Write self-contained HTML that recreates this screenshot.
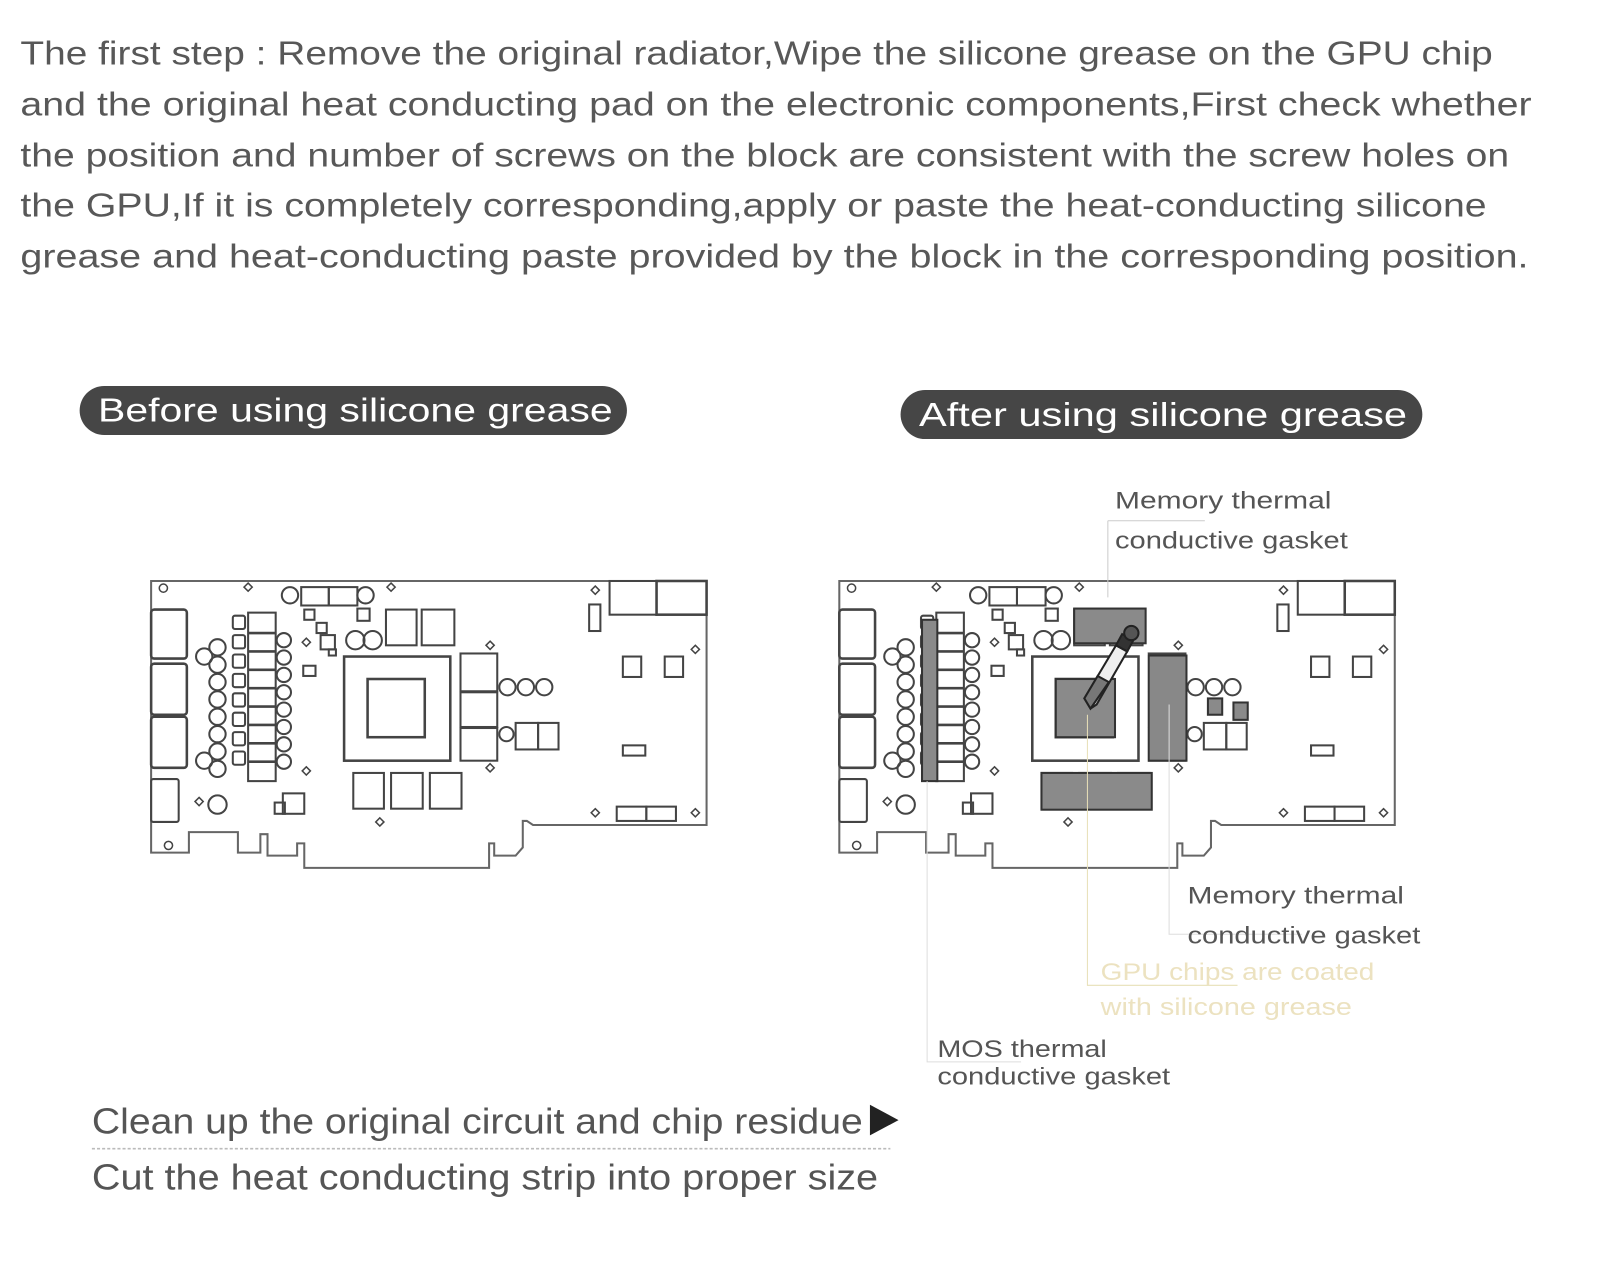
<!DOCTYPE html>
<html><head><meta charset="utf-8"><style>
html,body{margin:0;padding:0;background:#fff;width:1600px;height:1280px;overflow:hidden}
svg{display:block}
text{font-family:"Liberation Sans",sans-serif}
</style></head><body>
<svg width="1600" height="1280" viewBox="0 0 1567 1253.6" xmlns="http://www.w3.org/2000/svg">
<defs>
<g id="board" fill="none" stroke="#444" stroke-width="2">
  <path d="M148,569 H692 V808 H522 L516,804 H512 V830 L505,838 H484 V826 H479 V850 H298 V826 H291 V838 H262 V817 H255 V835 H233 V815 H185 V835 H148 Z" stroke="#666"/>
  <rect x="148" y="597" width="35" height="48" rx="3" stroke-width="2.5"/>
  <rect x="148" y="650" width="35" height="50" rx="3" stroke-width="2.5"/>
  <rect x="148" y="702" width="35" height="50" rx="3" stroke-width="2.5"/>
  <rect x="148" y="763" width="27" height="42" rx="2"/>
  <g>
    <circle cx="213" cy="634" r="8"/><circle cx="213" cy="651" r="8"/><circle cx="213" cy="668" r="8"/><circle cx="213" cy="685" r="8"/><circle cx="213" cy="702" r="8"/><circle cx="213" cy="719" r="8"/><circle cx="213" cy="736" r="8"/><circle cx="213" cy="753" r="8"/>
    <circle cx="200" cy="643" r="8"/><circle cx="200" cy="745" r="8"/>
    <circle cx="278" cy="627" r="7"/><circle cx="278" cy="644" r="7"/><circle cx="278" cy="661" r="7"/><circle cx="278" cy="678" r="7"/><circle cx="278" cy="695" r="7"/><circle cx="278" cy="712" r="7"/><circle cx="278" cy="729" r="7"/><circle cx="278" cy="746" r="7"/>
  </g>
  <g>
    <rect x="228" y="603" width="12" height="13" rx="2"/><rect x="228" y="622" width="12" height="13" rx="2"/><rect x="228" y="641" width="12" height="13" rx="2"/><rect x="228" y="660" width="12" height="13" rx="2"/><rect x="228" y="679" width="12" height="13" rx="2"/><rect x="228" y="698" width="12" height="13" rx="2"/><rect x="228" y="717" width="12" height="13" rx="2"/><rect x="228" y="736" width="12" height="13" rx="2"/>
  </g>
  <rect x="243" y="600" width="27" height="165"/>
  <path d="M243,620 H270 M243,638 H270 M243,656 H270 M243,674 H270 M243,692 H270 M243,710 H270 M243,728 H270 M243,746 H270" stroke-width="2.5"/>
  <circle cx="284" cy="583" r="8"/><circle cx="358" cy="583" r="8"/>
  <rect x="295" y="575" width="27" height="18"/><rect x="322" y="575" width="28" height="18"/>
  <rect x="298" y="597" width="10" height="10"/><rect x="310" y="610" width="10" height="10"/><rect x="314" y="622" width="14" height="14"/><rect x="322" y="636" width="7" height="6"/>
  <rect x="350" y="596" width="12" height="12"/>
  <circle cx="348" cy="627" r="9"/><circle cx="365" cy="627" r="9"/>
  <rect x="297" y="652" width="12" height="10"/>
  <rect x="378" y="597" width="30" height="35"/><rect x="413" y="597" width="32" height="35"/>
  <rect x="337" y="643" width="104" height="102" stroke-width="2.5"/>
  <rect x="360" y="665" width="56" height="57" stroke-width="2.5"/>
  <rect x="451" y="640" width="36" height="37"/><rect x="451" y="678" width="36" height="34"/><rect x="451" y="713" width="36" height="32"/>
  <circle cx="497" cy="673" r="8"/><circle cx="515" cy="673" r="8"/><circle cx="533" cy="673" r="8"/>
  <circle cx="496" cy="719" r="7"/>
  <rect x="505" y="708" width="22" height="26"/><rect x="527" y="708" width="20" height="26"/>
  <rect x="346" y="757" width="30" height="35"/><rect x="383" y="757" width="31" height="35"/><rect x="421" y="757" width="31" height="35"/>
  <circle cx="213" cy="788" r="9"/>
  <rect x="277" y="777" width="21" height="20"/><rect x="269" y="786" width="10" height="11"/>
  <rect x="597" y="569" width="46" height="33"/><rect x="643" y="569" width="49" height="33" stroke-width="2.5"/>
  <rect x="577" y="592" width="11" height="26"/>
  <rect x="610" y="643" width="18" height="20"/><rect x="651" y="643" width="18" height="20"/>
  <rect x="610" y="730" width="22" height="10"/>
  <rect x="604" y="790" width="29" height="14"/><rect x="633" y="790" width="29" height="14"/>
  <g stroke-width="1.5">
    <circle cx="160" cy="576" r="4"/><circle cx="165" cy="828" r="4"/>
    <path d="M243,571 l4,4 -4,4 -4,-4z M383,571 l4,4 -4,4 -4,-4z M480,628 l4,4 -4,4 -4,-4z M480,748 l4,4 -4,4 -4,-4z M372,801 l4,4 -4,4 -4,-4z M300,751 l4,4 -4,4 -4,-4z M300,625 l4,4 -4,4 -4,-4z M195,781 l4,4 -4,4 -4,-4z M583,792 l4,4 -4,4 -4,-4z M681,792 l4,4 -4,4 -4,-4z M681,632 l4,4 -4,4 -4,-4z M583,574 l4,4 -4,4 -4,-4z"/>
  </g>
</g>
</defs>

<g fill="#585858" font-size="33">
<text x="20" y="63" textLength="1442" lengthAdjust="spacingAndGlyphs">The first step : Remove the original radiator,Wipe the silicone grease on the GPU chip</text>
<text x="20" y="113" textLength="1480" lengthAdjust="spacingAndGlyphs">and the original heat conducting pad on the electronic components,First check whether</text>
<text x="20" y="163" textLength="1458" lengthAdjust="spacingAndGlyphs">the position and number of screws on the block are consistent with the screw holes on</text>
<text x="20" y="212" textLength="1436" lengthAdjust="spacingAndGlyphs">the GPU,If it is completely corresponding,apply or paste the heat-conducting silicone</text>
<text x="20" y="262" textLength="1477" lengthAdjust="spacingAndGlyphs">grease and heat-conducting paste provided by the block in the corresponding position.</text>
</g>

<rect x="78" y="378" width="536" height="48" rx="24" fill="#464646"/>
<text x="96" y="413" fill="#fff" font-size="33" textLength="504" lengthAdjust="spacingAndGlyphs">Before using silicone grease</text>
<rect x="882" y="382" width="511" height="48" rx="24" fill="#464646"/>
<text x="900" y="417" fill="#fff" font-size="33" textLength="478" lengthAdjust="spacingAndGlyphs">After using silicone grease</text>

<use href="#board"/>
<g transform="translate(674,0)"><use href="#board"/></g>

<!-- right board overlays -->
<g stroke="#333" stroke-width="2" fill="#8a8a8a">
  <rect x="1034" y="665" width="58" height="57"/>
  <rect x="1052" y="596" width="70" height="34"/>
  <rect x="1125" y="642" width="37" height="103" fill="#888"/>
  <rect x="1020" y="757" width="108" height="36"/>
  <rect x="903" y="607" width="15" height="158"/>
  <rect x="1183" y="684" width="14" height="16"/>
  <rect x="1208" y="688" width="14" height="17"/>
</g>
<rect x="1118" y="640" width="6" height="107" fill="#fff"/>
<!-- syringe -->
<g stroke="#222" stroke-width="2">
  <path d="M1068,694 L1062,684 L1093,632 L1104,638 L1074,690 Z" fill="#eee"/>
  <path d="M1068,694 L1062,684 L1075,662 L1086,668 Z" fill="#777"/>
  <path d="M1093,632 L1104,638 L1110,627 L1099,621 Z" fill="#333"/>
  <circle cx="1108" cy="620" r="7" fill="#555"/>
</g>

<!-- leader lines -->
<g fill="none" stroke-width="1">
  <path d="M1085,510 H1180 M1085,510 V585" stroke="#ccc"/>
  <path d="M908,765 V1040 H1000" stroke="#ddd"/>
  <path d="M1145,690 V915 H1275" stroke="#ddd"/>
  <path d="M1065,700 V965 H1212" stroke="#e8e0b8"/>
</g>
<g fill="#555" font-size="24">
  <text x="1092" y="498" textLength="212" lengthAdjust="spacingAndGlyphs">Memory thermal</text>
  <text x="1092" y="537" textLength="228" lengthAdjust="spacingAndGlyphs">conductive gasket</text>
  <text x="1163" y="885" textLength="212" lengthAdjust="spacingAndGlyphs">Memory thermal</text>
  <text x="1163" y="924" textLength="228" lengthAdjust="spacingAndGlyphs">conductive gasket</text>
  <text x="918" y="1035" textLength="166" lengthAdjust="spacingAndGlyphs">MOS thermal</text>
  <text x="918" y="1062" textLength="228" lengthAdjust="spacingAndGlyphs">conductive gasket</text>
</g>
<g fill="#ece2c0" font-size="24">
  <text x="1078" y="960" textLength="268" lengthAdjust="spacingAndGlyphs">GPU chips are coated</text>
  <text x="1078" y="994" textLength="246" lengthAdjust="spacingAndGlyphs">with silicone grease</text>
</g>

<g fill="#555" font-size="35">
  <text x="90" y="1110" textLength="755" lengthAdjust="spacingAndGlyphs">Clean up the original circuit and chip residue</text>
  <text x="90" y="1165" textLength="770" lengthAdjust="spacingAndGlyphs">Cut the heat conducting strip into proper size</text>
</g>
<path d="M852,1082 L880,1097 L852,1112 Z" fill="#222"/>
<path d="M90,1125 H872" stroke="#bbb" stroke-width="1.5" stroke-dasharray="3,2"/>
</svg>
</body></html>
